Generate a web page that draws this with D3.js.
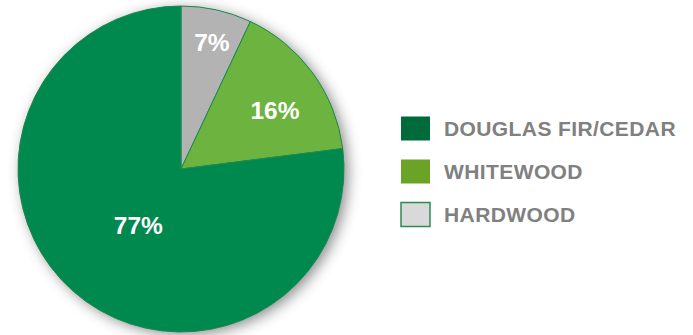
<!DOCTYPE html>
<html><head><meta charset="utf-8">
<script src="https://cdn.jsdelivr.net/npm/d3@7"></script>
<style>html,body{margin:0;padding:0;background:#fff;}svg{display:block;}</style>
</head><body>
<svg id="c" width="693" height="335"></svg>
<script>
// Data
const categories = ["HARDWOOD", "WHITEWOOD", "DOUGLAS FIR/CEDAR"];
const values = [7, 16, 77];
const labels = ["7%", "16%", "77%"];
const legendOrder = ["DOUGLAS FIR/CEDAR", "WHITEWOOD", "HARDWOOD"];

// Styles
const sliceColors = {"HARDWOOD": "#b3b3b3", "WHITEWOOD": "#6db33f", "DOUGLAS FIR/CEDAR": "#00894f"};
const legendColors = {"HARDWOOD": "#d9d9d9", "WHITEWOOD": "#6aa325", "DOUGLAS FIR/CEDAR": "#006b3a"};
const labelRadiusFactor = {"HARDWOOD": 0.80, "WHITEWOOD": 0.68, "DOUGLAS FIR/CEDAR": 0.435};
const labelAngleShift = {"HARDWOOD": 1.1, "WHITEWOOD": 3.9, "DOUGLAS FIR/CEDAR": -4.4};

const svg = d3.select("#c");
const cx = 181, cy = 169, R = 163;

const defs = svg.append("defs");
const f = defs.append("filter").attr("id", "sh").attr("x", "-20%").attr("y", "-20%").attr("width", "140%").attr("height", "140%");
f.append("feDropShadow").attr("dx", 4).attr("dy", 3).attr("stdDeviation", 7)
  .attr("flood-color", "#000").attr("flood-opacity", 0.45);

const pie = d3.pie().sort(null).value(d => d.v);
const data = categories.map((c, i) => ({c, v: values[i], l: labels[i]}));
const arcs = pie(data);
const arc = d3.arc().innerRadius(0).outerRadius(R);

const g = svg.append("g").attr("transform", `translate(${cx},${cy})`);
g.append("circle").attr("r", R).attr("fill", "#00894f").attr("filter", "url(#sh)");
g.selectAll("path.s").data(arcs).join("path").attr("class", "s")
  .attr("d", arc).attr("fill", d => sliceColors[d.data.c])
  .attr("stroke", "#1f8a4f").attr("stroke-width", 1).attr("stroke-linejoin", "round");

g.selectAll("text.l").data(arcs).join("text").attr("class", "l")
  .attr("transform", d => {
    const rr = R * labelRadiusFactor[d.data.c];
    const a = (d.startAngle + d.endAngle) / 2 + labelAngleShift[d.data.c] * Math.PI / 180;
    return `translate(${rr * Math.sin(a)},${-rr * Math.cos(a)})`;
  })
  .attr("text-anchor", "middle").attr("dy", "0.36em")
  .attr("fill", "#fff").attr("font-family", "'Liberation Sans', Arial, sans-serif")
  .attr("font-weight", "bold").attr("font-size", 24.5)
  .text(d => d.data.l);

// Legend
const ly = d3.scaleBand().domain(legendOrder).range([107, 236]);
const lg = svg.append("g");
const item = lg.selectAll("g").data(legendOrder).join("g")
  .attr("transform", d => `translate(401,${ly(d) + ly.bandwidth() / 2})`);
item.append("rect").attr("x", 0).attr("y", -12).attr("width", 29).attr("height", 24)
  .attr("fill", d => legendColors[d])
  .attr("stroke", d => d === "HARDWOOD" ? "#2e8a55" : "none").attr("stroke-width", 1.5);
item.append("text").attr("x", 43).attr("dy", "0.36em")
  .attr("fill", "#808080").attr("font-family", "'Liberation Sans', Arial, sans-serif")
  .attr("font-weight", "bold").attr("font-size", 21).attr("letter-spacing", 0.4)
  .text(d => d);
</script>
</body></html>
